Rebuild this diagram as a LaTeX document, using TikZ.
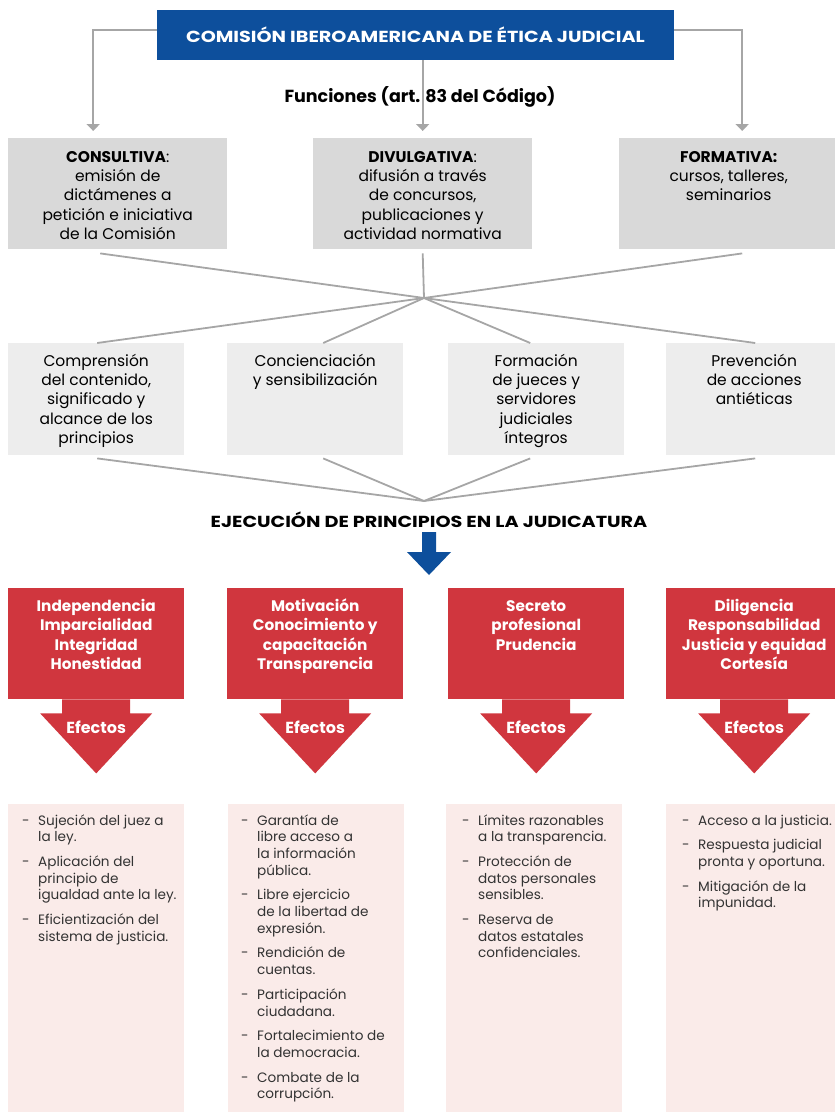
\documentclass[tikz,border=0pt]{standalone}
\usepackage{fontspec}
\setmainfont{Poppins}
\newfontfamily\ancha[FakeStretch=1.2]{Poppins}
\usepackage{tikz}
\usetikzlibrary{arrows.meta,positioning,calc}

\definecolor{azulcie}{RGB}{13,79,156}
\definecolor{grislinea}{RGB}{166,166,166}
\definecolor{grisfuerte}{RGB}{217,217,217}
\definecolor{grisclaro}{RGB}{237,237,237}
\definecolor{rojocie}{RGB}{208,54,62}
\definecolor{rosado}{RGB}{250,235,233}
\definecolor{textogris}{RGB}{51,51,51}

% texto centrado que empieza arriba de la caja
\newcommand{\texto}[2]{\parbox[t]{#1}{\centering #2}}
% un efecto de la lista (guion y sangria francesa)
\newcommand{\efecto}[1]{\noindent\hangindent=16pt\hangafter=1\makebox[16pt][l]{-}#1\par\vspace{8pt}}

\begin{document}
\begin{tikzpicture}[
    x=1pt, y=-1pt,      % coordenadas en pixeles, y hacia abajo
    conector/.style={draw=grislinea, line width=1.8pt},
    flecha/.style={conector, -{Triangle[width=13pt,length=7pt]}, shorten >=7pt},
    funcion/.style={fill=grisfuerte, inner sep=0pt, minimum width=219pt, minimum height=111pt, anchor=north west},
    objetivo/.style={fill=grisclaro, inner sep=0pt, minimum width=176pt, minimum height=112pt, anchor=north west},
    principio/.style={fill=rojocie, inner sep=0pt, minimum width=176pt, minimum height=111pt, anchor=north west},
    lista/.style={fill=rosado, inner sep=0pt, minimum width=176pt, minimum height=312pt, anchor=north west},
    txtgris/.style={anchor=base, inner sep=0pt, text=black, font=\fontsize{15.5}{19.4}\selectfont},
    txtrojo/.style={anchor=base, inner sep=0pt, text=white, font=\bfseries\fontsize{15.3}{19.5}\selectfont},
    txtlista/.style={anchor=base west, inner sep=0pt, text=textogris, font=\fontsize{13.6}{16.7}\selectfont},
]
\useasboundingbox (0,0) rectangle (835,1112);

% --- Comision y funciones ---
\node[fill=azulcie, text=white, font=\ancha\bfseries\fontsize{16}{19}\selectfont,
      minimum width=517pt, minimum height=50pt] (cie) at (415.5,35)
      {COMISIÓN IBEROAMERICANA DE ÉTICA JUDICIAL};
\node[font=\bfseries\fontsize{17.5}{20}\selectfont] (funciones) at (420,97)
      {Funciones (art. 83 del Código)};

\node[funcion] (consultiva) at (8,138) {};
\node[funcion] (divulgativa) at (313,138) {};
\node[funcion] (formativa) at (619,138) {};

\node[txtgris] (consultiva-t) at ([yshift=-24pt]consultiva.north)
      {\texto{215pt}{\textbf{CONSULTIVA}:\\ emisión de\\ dictámenes a\\ petición e iniciativa\\ de la Comisión}};
\node[txtgris] (divulgativa-t) at ([yshift=-24pt]divulgativa.north)
      {\texto{215pt}{\textbf{DIVULGATIVA}:\\ difusión a través\\ de concursos,\\ publicaciones y\\ actividad normativa}};
\node[txtgris] (formativa-t) at ([yshift=-24pt]formativa.north)
      {\texto{215pt}{\textbf{FORMATIVA:}\\ cursos, talleres,\\ seminarios}};

\draw[flecha] ([yshift=5pt]cie.west) -| ([xshift=-24.5pt]consultiva.north);
\draw[flecha] (divulgativa.north |- cie.south) -- (divulgativa.north);
\draw[flecha] ([yshift=5pt]cie.east) -| ([xshift=13.5pt]formativa.north);

% --- Objetivos ---
\coordinate (nudo1) at (424,298);
\node[objetivo] (comprension) at (8,343) {};
\node[objetivo] (concienciacion) at (227,343) {};
\node[objetivo] (formacion) at (448,343) {};
\node[objetivo] (prevencion) at (666,343) {};

\node[txtgris] (comprension-t) at ([yshift=-23pt]comprension.north)
      {\texto{174pt}{Comprensión\\ del contenido,\\ significado y\\ alcance de los\\ principios}};
\node[txtgris] (concienciacion-t) at ([yshift=-23pt]concienciacion.north)
      {\texto{174pt}{Concienciación\\ y sensibilización}};
\node[txtgris] (formacion-t) at ([yshift=-23pt]formacion.north)
      {\texto{174pt}{Formación\\ de jueces y\\ servidores\\ judiciales\\ íntegros}};
\node[txtgris] (prevencion-t) at ([yshift=-23pt]prevencion.north)
      {\texto{174pt}{Prevención\\ de acciones\\ antiéticas}};

\draw[conector] ([xshift=-17.5pt,yshift=-4pt]consultiva.south) -- (nudo1);
\draw[conector] ([yshift=-4pt]divulgativa.south) -- (nudo1);
\draw[conector] ([xshift=13.5pt,yshift=-4pt]formativa.south) -- (nudo1);
\draw[conector] (nudo1) -- ([xshift=1pt]comprension.north);
\draw[conector] (nudo1) -- ([xshift=8pt]concienciacion.north);
\draw[conector] (nudo1) -- ([xshift=-6pt]formacion.north);
\draw[conector] (nudo1) -- ([xshift=1pt]prevencion.north);

% --- Ejecucion ---
\coordinate (nudo2) at (424,501);
\draw[conector] ([xshift=1pt,yshift=-3pt]comprension.south) -- (nudo2);
\draw[conector] ([xshift=8pt,yshift=-3pt]concienciacion.south) -- (nudo2);
\draw[conector] ([xshift=-6pt,yshift=-3pt]formacion.south) -- (nudo2);
\draw[conector] ([xshift=1pt,yshift=-3pt]prevencion.south) -- (nudo2);

\node[font=\ancha\bfseries\fontsize{16}{19}\selectfont] (ejecucion) at (429,520)
      {EJECUCIÓN DE PRINCIPIOS EN LA JUDICATURA};
\fill[azulcie] (422,532) -- (436,532) -- (436,552) -- (451,552) -- (429,575)
      -- (407,552) -- (422,552) -- cycle;

% --- Principios y efectos ---
\node[principio] (ind) at (8,588) {};
\node[principio] (mot) at (227,588) {};
\node[principio] (sec) at (448,588) {};
\node[principio] (dil) at (666,588) {};

\node[txtrojo] (ind-t) at ([yshift=-23pt]ind.north)
      {\texto{174pt}{Independencia\\ Imparcialidad\\ Integridad\\ Honestidad}};
\node[txtrojo] (mot-t) at ([yshift=-23pt]mot.north)
      {\texto{174pt}{Motivación\\ Conocimiento y\\ capacitación\\ Transparencia}};
\node[txtrojo] (sec-t) at ([yshift=-23pt]sec.north)
      {\texto{174pt}{Secreto\\ profesional\\ Prudencia}};
\node[txtrojo] (dil-t) at ([yshift=-23pt]dil.north)
      {\texto{174pt}{Diligencia\\ Responsabilidad\\ Justicia y equidad\\ Cortesía}};

\foreach \p in {ind,mot,sec,dil}{
  \fill[rojocie] ([xshift=-34pt]\p.south) -- ++(0,14) -- ++(-22,0)
      -- ([yshift=-74pt]\p.south) -- ++(56,-60) -- ++(-22,0) -- ++(0,-14) -- cycle;
  \node[text=white, font=\bfseries\fontsize{16}{19}\selectfont] (\p-ef) at ([yshift=-28pt]\p.south) {Efectos};
}

\node[lista] (efind) at (8,804) {};
\node[lista] (efmot) at (228,804) {};
\node[lista] (efsec) at (446,804) {};
\node[lista] (efdil) at (666,804) {};

\node[txtlista] (efind-t) at ([xshift=14pt,yshift=-21pt]efind.north west) {\parbox[t]{200pt}{%
  \efecto{Sujeción del juez a\newline la ley.}
  \efecto{Aplicación del\newline principio de\newline igualdad ante la ley.}
  \efecto{Eficientización del\newline sistema de justicia.}}};
\node[txtlista] (efmot-t) at ([xshift=13pt,yshift=-21pt]efmot.north west) {\parbox[t]{200pt}{%
  \efecto{Garantía de\newline libre acceso a\newline la información\newline pública.}
  \efecto{Libre ejercicio\newline de la libertad de\newline expresión.}
  \efecto{Rendición de\newline cuentas.}
  \efecto{Participación\newline ciudadana.}
  \efecto{Fortalecimiento de\newline la democracia.}
  \efecto{Combate de la\newline corrupción.}}};
\node[txtlista] (efsec-t) at ([xshift=16pt,yshift=-21pt]efsec.north west) {\parbox[t]{200pt}{%
  \efecto{Límites razonables\newline a la transparencia.}
  \efecto{Protección de\newline datos personales\newline sensibles.}
  \efecto{Reserva de\newline datos estatales\newline confidenciales.}}};
\node[txtlista] (efdil-t) at ([xshift=16pt,yshift=-21pt]efdil.north west) {\parbox[t]{200pt}{%
  \efecto{Acceso a la justicia.}
  \efecto{Respuesta judicial\newline pronta y oportuna.}
  \efecto{Mitigación de la\newline impunidad.}}};

\end{tikzpicture}
\end{document}
